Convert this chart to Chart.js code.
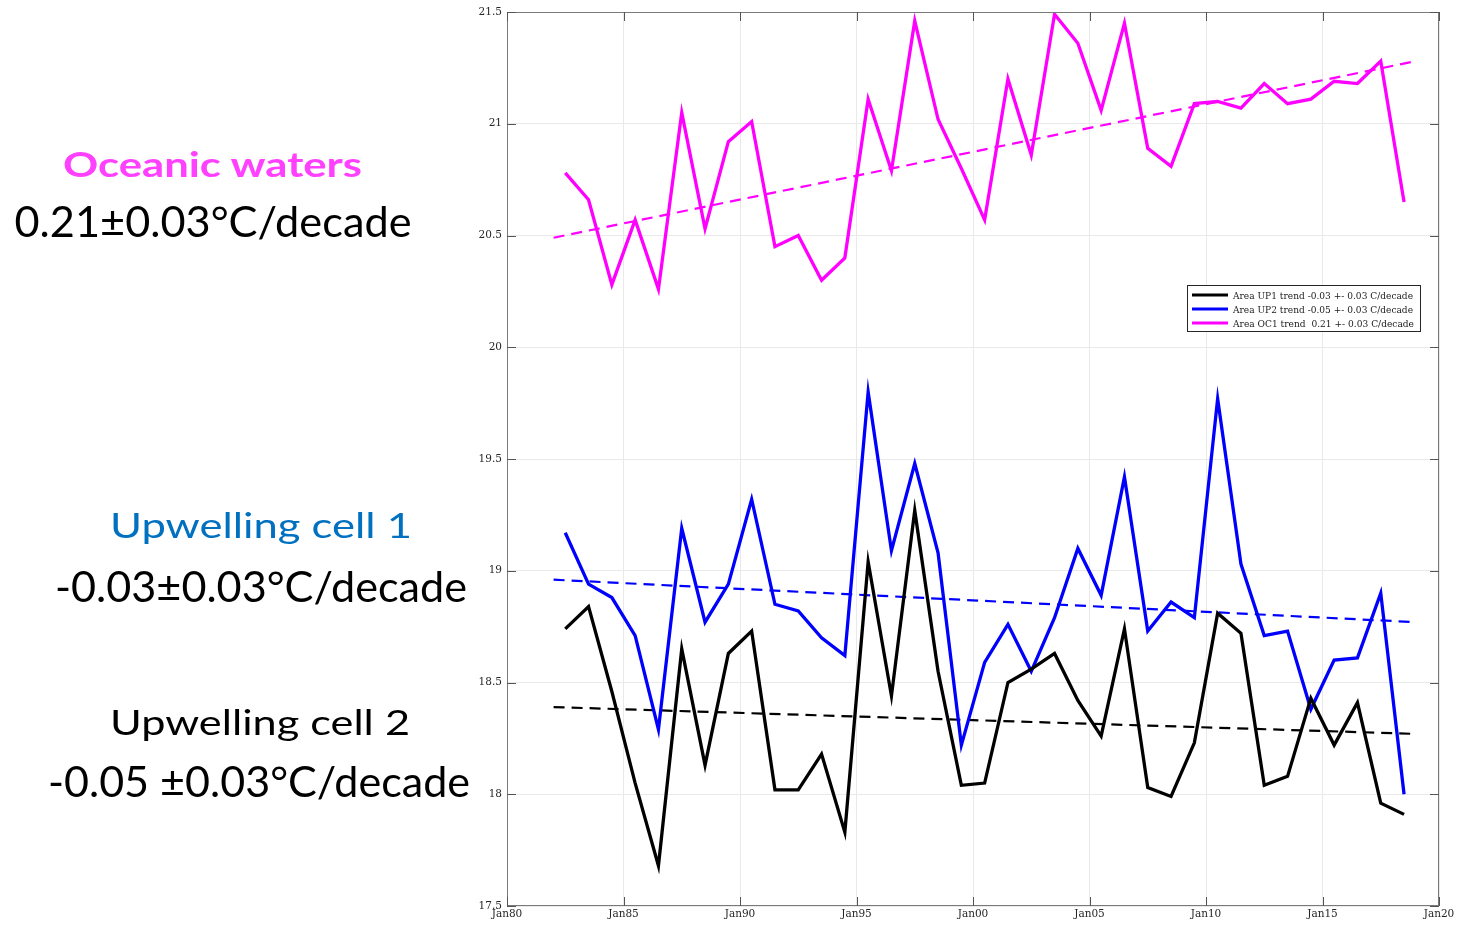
<!DOCTYPE html>
<html>
<head>
<meta charset="utf-8">
<script src="https://cdn.jsdelivr.net/npm/chart.js@4.4.1/dist/chart.umd.min.js"></script>
<style>
  html, body { margin: 0; padding: 0; background: #ffffff; }
  #wrap { position: relative; width: 1466px; height: 925px; overflow: hidden; }
  #c { position: absolute; left: 0; top: 0; }
  #overlay { position: absolute; left: 0; top: 0; pointer-events: none; }
</style>
</head>
<body>
<div id="wrap">
  <canvas id="c" width="1466" height="925"></canvas>
  <svg id="overlay" width="1466" height="925" xmlns="http://www.w3.org/2000/svg">
    <text x="212.5" y="177" text-anchor="middle" font-family="Lato" font-weight="bold" font-size="34" fill="#ff40ff" textLength="299" lengthAdjust="spacingAndGlyphs">Oceanic waters</text>
    <text x="213" y="236.5" text-anchor="middle" font-family="Lato" font-size="42" fill="#000000" textLength="397" lengthAdjust="spacingAndGlyphs">0.21±0.03°C/decade</text>
    <text x="261" y="538" text-anchor="middle" font-family="Lato" font-size="35" fill="#0070c0" textLength="302" lengthAdjust="spacingAndGlyphs">Upwelling cell 1</text>
    <text x="261" y="601.5" text-anchor="middle" font-family="Lato" font-size="42" fill="#000000" textLength="412" lengthAdjust="spacingAndGlyphs">-0.03±0.03°C/decade</text>
    <text x="260" y="735" text-anchor="middle" font-family="Lato" font-size="35" fill="#000000" textLength="300" lengthAdjust="spacingAndGlyphs">Upwelling cell 2</text>
    <text x="259" y="796.5" text-anchor="middle" font-family="Lato" font-size="42" fill="#000000" textLength="422" lengthAdjust="spacingAndGlyphs" style="white-space:pre">-0.05 ±0.03°C/decade</text>

    <rect x="1187.5" y="285.5" width="233" height="46" fill="#ffffff" stroke="#262626" stroke-width="1"/>
    <line x1="1192" y1="295" x2="1228" y2="295" stroke="#000000" stroke-width="3"/>
    <line x1="1192" y1="309" x2="1228" y2="309" stroke="#0000ff" stroke-width="3"/>
    <line x1="1192" y1="323" x2="1228" y2="323" stroke="#ff00ff" stroke-width="3"/>
    <text id="lg0" x="1233" y="298.5" font-family="DejaVu Serif" font-size="9.5" fill="#1a1a1a" textLength="180" lengthAdjust="spacingAndGlyphs" style="white-space:pre"></text>
    <text id="lg1" x="1233" y="312.5" font-family="DejaVu Serif" font-size="9.5" fill="#1a1a1a" textLength="180" lengthAdjust="spacingAndGlyphs" style="white-space:pre"></text>
    <text id="lg2" x="1233" y="326.5" font-family="DejaVu Serif" font-size="9.5" fill="#1a1a1a" textLength="181" lengthAdjust="spacingAndGlyphs" style="white-space:pre"></text>
  </svg>
</div>
<script>
// ---- data ----
const years = [1982.5, 1983.5, 1984.5, 1985.5, 1986.5, 1987.5, 1988.5, 1989.5, 1990.5, 1991.5,
               1992.5, 1993.5, 1994.5, 1995.5, 1996.5, 1997.5, 1998.5, 1999.5, 2000.5, 2001.5,
               2002.5, 2003.5, 2004.5, 2005.5, 2006.5, 2007.5, 2008.5, 2009.5, 2010.5, 2011.5,
               2012.5, 2013.5, 2014.5, 2015.5, 2016.5, 2017.5, 2018.5];

const up1Values = [18.74, 18.84, 18.46, 18.05, 17.68, 18.65, 18.13, 18.63, 18.73, 18.02,
                   18.02, 18.18, 17.83, 19.04, 18.44, 19.27, 18.55, 18.04, 18.05, 18.50,
                   18.56, 18.63, 18.42, 18.26, 18.74, 18.03, 17.99, 18.23, 18.81, 18.72,
                   18.04, 18.08, 18.43, 18.22, 18.41, 17.96, 17.91];

const up2Values = [19.17, 18.94, 18.88, 18.71, 18.29, 19.19, 18.77, 18.94, 19.32, 18.85,
                   18.82, 18.70, 18.62, 19.80, 19.09, 19.48, 19.08, 18.22, 18.59, 18.76,
                   18.55, 18.79, 19.10, 18.89, 19.42, 18.73, 18.86, 18.79, 19.77, 19.03,
                   18.71, 18.73, 18.38, 18.60, 18.61, 18.90, 18.00];

const oc1Values = [20.78, 20.66, 20.28, 20.57, 20.26, 21.05, 20.53, 20.92, 21.01, 20.45,
                   20.50, 20.30, 20.40, 21.11, 20.79, 21.46, 21.02, 20.80, 20.57, 21.20,
                   20.86, 21.49, 21.36, 21.06, 21.45, 20.89, 20.81, 21.09, 21.10, 21.07,
                   21.18, 21.09, 21.11, 21.19, 21.18, 21.28, 20.65];

const trendYears = [1982.0, 2019.0];
const up1Trend = [18.39, 18.27];
const up2Trend = [18.96, 18.77];
const oc1Trend = [20.49, 21.28];

const seriesLabels = [
  'Area UP1 trend -0.03 +- 0.03 C/decade',
  'Area UP2 trend -0.05 +- 0.03 C/decade',
  'Area OC1 trend  0.21 +- 0.03 C/decade'
];

const xTickValues = [1980, 1985, 1990, 1995, 2000, 2005, 2010, 2015, 2020];
const xTickLabels = ['Jan80', 'Jan85', 'Jan90', 'Jan95', 'Jan00', 'Jan05', 'Jan10', 'Jan15', 'Jan20'];
const yTickValues = [17.5, 18, 18.5, 19, 19.5, 20, 20.5, 21, 21.5];
const yTickLabels = ['17.5', '18', '18.5', '19', '19.5', '20', '20.5', '21', '21.5'];

// ---- legend text ----
seriesLabels.forEach((t, i) => { document.getElementById('lg' + i).textContent = t; });

function pts(xs, ys) { return xs.map((x, i) => ({ x: x, y: ys[i] })); }

const frameColor = '#7a7a7a';

const framePlugin = {
  id: 'frame',
  afterDraw(chart) {
    const { ctx, chartArea: a, scales } = chart;
    ctx.save();
    ctx.strokeStyle = frameColor;
    ctx.lineWidth = 1;
    ctx.strokeRect(a.left + 0.5, a.top + 0.5, a.right - a.left - 1, a.bottom - a.top - 1);
    ctx.strokeStyle = '#555555';
    ctx.beginPath();
    const L = 9;
    xTickValues.forEach(v => {
      const px = Math.round(scales.x.getPixelForValue(v)) + 0.5;
      ctx.moveTo(px, a.bottom); ctx.lineTo(px, a.bottom - L);
      ctx.moveTo(px, a.top); ctx.lineTo(px, a.top + L);
    });
    yTickValues.forEach(v => {
      const py = Math.round(scales.y.getPixelForValue(v)) + 0.5;
      ctx.moveTo(a.left, py); ctx.lineTo(a.left + L, py);
      ctx.moveTo(a.right, py); ctx.lineTo(a.right - L, py);
    });
    ctx.stroke();
    ctx.restore();
  }
};

const tickFont = { family: 'DejaVu Serif', size: 10.5 };
const mainW = 3.3;
const trendW = 2.2;
const dash = [11, 7];

new Chart(document.getElementById('c'), {
  type: 'line',
  data: {
    datasets: [
      { label: seriesLabels[0], data: pts(years, up1Values), borderColor: '#000000', borderWidth: mainW, pointRadius: 0, tension: 0, fill: false },
      { label: seriesLabels[1], data: pts(years, up2Values), borderColor: '#0000ff', borderWidth: mainW, pointRadius: 0, tension: 0, fill: false },
      { label: seriesLabels[2], data: pts(years, oc1Values), borderColor: '#ff00ff', borderWidth: mainW, pointRadius: 0, tension: 0, fill: false },
      { label: 'UP1 trend', data: pts(trendYears, up1Trend), borderColor: '#000000', borderWidth: trendW, borderDash: dash, pointRadius: 0, fill: false },
      { label: 'UP2 trend', data: pts(trendYears, up2Trend), borderColor: '#0000ff', borderWidth: trendW, borderDash: dash, pointRadius: 0, fill: false },
      { label: 'OC1 trend', data: pts(trendYears, oc1Trend), borderColor: '#ff00ff', borderWidth: trendW, borderDash: dash, pointRadius: 0, fill: false }
    ]
  },
  options: {
    responsive: false,
    animation: false,
    devicePixelRatio: 1,
    layout: { padding: { left: 447, right: 27, top: 12, bottom: 0 } },
    plugins: { legend: { display: false }, tooltip: { enabled: false } },
    scales: {
      x: {
        type: 'linear',
        min: 1980, max: 2020,
        afterBuildTicks: s => { s.ticks = xTickValues.map(v => ({ value: v })); },
        afterFit: s => { s.height = 19; },
        ticks: {
          font: tickFont, color: '#262626', padding: 2, maxRotation: 0, autoSkip: false,
          callback: (v, i) => xTickLabels[i]
        },
        grid: { color: '#e9e9e9', drawTicks: false },
        border: { display: false }
      },
      y: {
        type: 'linear',
        min: 17.5, max: 21.5,
        afterBuildTicks: s => { s.ticks = yTickValues.map(v => ({ value: v })); },
        afterFit: s => { s.width = 60; },
        ticks: {
          font: tickFont, color: '#262626', padding: 5, autoSkip: false,
          callback: (v, i) => yTickLabels[i]
        },
        grid: { color: '#e9e9e9', drawTicks: false },
        border: { display: false }
      }
    }
  },
  plugins: [framePlugin]
});
</script>
</body>
</html>
